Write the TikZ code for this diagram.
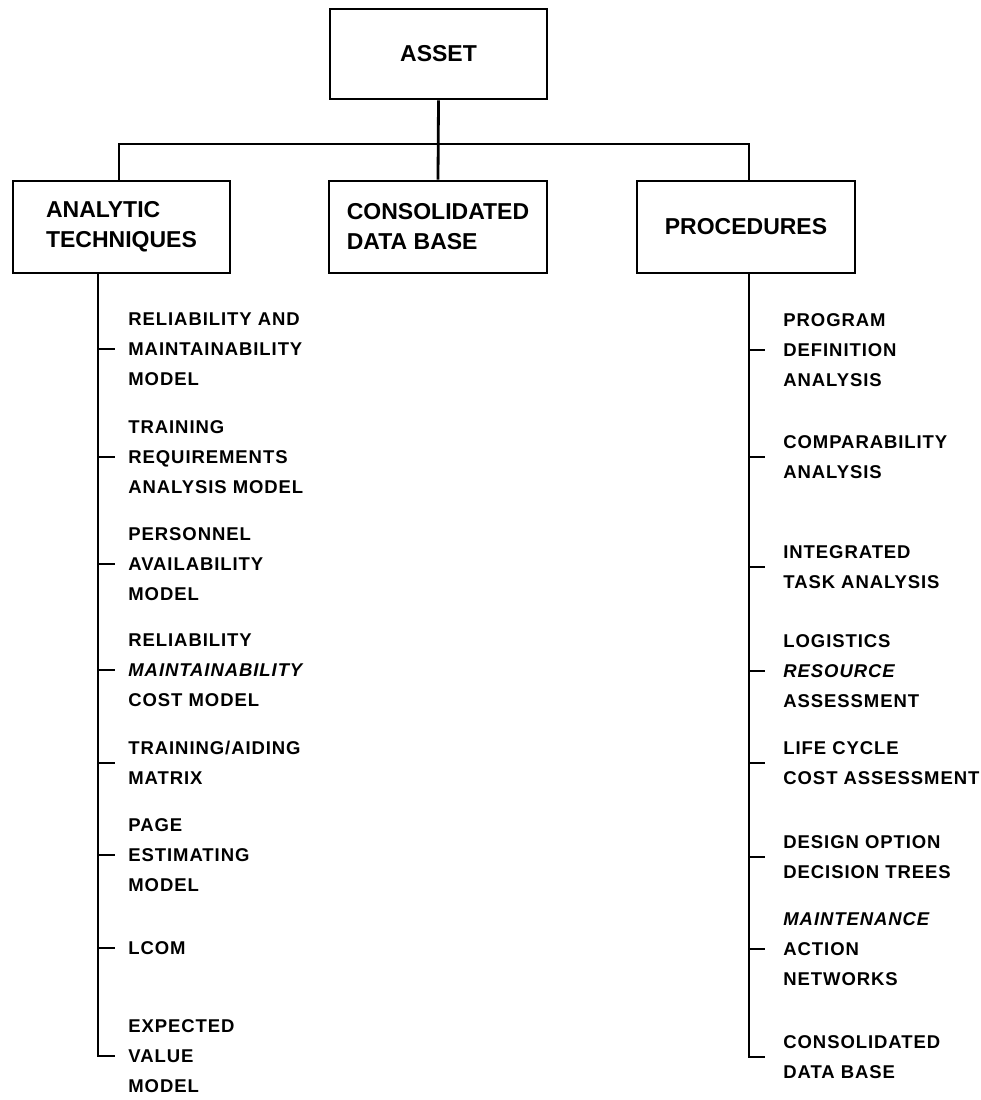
\documentclass[tikz,border=0pt]{standalone}
\usepackage{fontspec}
\setmainfont{Liberation Sans}
\newfontfamily\itemfont[LetterSpace=5.0]{Liberation Sans}
\begin{document}
\begin{tikzpicture}[x=1pt,y=-1pt,
  line width=2.8pt,
  box/.style={draw, line width=2.8pt, inner sep=0pt, align=left,
    font=\bfseries\fontsize{23}{30}\selectfont},
  item/.style={anchor=west, inner sep=0pt, align=left,
    font=\itemfont\bfseries\fontsize{18.5}{30}\selectfont},
  tick/.style={line width=2.8pt}]
\useasboundingbox (0,0) rectangle (981,1100);

% top box and the three main branches
\node[box, minimum width=217pt, minimum height=90pt] (asset) at (438.5,54) {ASSET};
\node[box, minimum width=217pt, minimum height=92pt] (analytic) at (121.5,227) {ANALYTIC\\TECHNIQUES};
\node[box, minimum width=218pt, minimum height=92pt] (database) at (438,227) {CONSOLIDATED\\DATA BASE};
\node[box, minimum width=218pt, minimum height=92pt] (procedures) at (746,227) {PROCEDURES};

\coordinate (bar) at (0,144);
\coordinate (ain) at ([xshift=-2.5pt]analytic.north);
\coordinate (pin) at ([xshift=3pt]procedures.north);
\draw (asset.south) -- (database.north);
\draw (ain) |- (bar -| pin) -- (pin);

% analytic techniques
\coordinate (ltop) at ([xshift=-23.5pt]analytic.south);
\node[item] (l1) at (127,349) {RELIABILITY AND\\MAINTAINABILITY\\MODEL};
\node[item] (l2) at (127,457) {TRAINING\\REQUIREMENTS\\ANALYSIS MODEL};
\node[item] (l3) at (127,564) {PERSONNEL\\AVAILABILITY\\MODEL};
\node[item] (l4) at (127,670) {RELIABILITY\\{\itshape MAINTAINABILITY}\\COST MODEL};
\node[item] (l5) at (127,763) {TRAINING/AIDING\\MATRIX};
\node[item] (l6) at (127,855) {PAGE\\ESTIMATING\\MODEL};
\node[item] (l7) at (127,948) {LCOM};
\node[item] (l8) at (127,1056) {EXPECTED\\VALUE\\MODEL};

\draw (ltop) |- ([xshift=-12pt]l8.west);
\foreach \n in {l1,l2,l3,l4,l5,l6,l7}
  \draw[tick] (\n.west -| ltop) -- ([xshift=-12pt]\n.west);

% procedures
\coordinate (rtop) at ([xshift=3pt]procedures.south);
\node[item] (r1) at (782,350) {PROGRAM\\DEFINITION\\ANALYSIS};
\node[item] (r2) at (782,457) {COMPARABILITY\\ANALYSIS};
\node[item] (r3) at (782,567) {INTEGRATED\\TASK ANALYSIS};
\node[item] (r4) at (782,671) {LOGISTICS\\{\itshape RESOURCE}\\ASSESSMENT};
\node[item] (r5) at (782,763) {LIFE CYCLE\\COST ASSESSMENT};
\node[item] (r6) at (782,857) {DESIGN OPTION\\DECISION TREES};
\node[item] (r7) at (782,949) {{\itshape MAINTENANCE}\\ACTION\\NETWORKS};
\node[item] (r8) at (782,1057) {CONSOLIDATED\\DATA BASE};

\draw (rtop) |- ([xshift=-17pt]r8.west);
\foreach \n in {r1,r2,r3,r4,r5,r6,r7}
  \draw[tick] (\n.west -| rtop) -- ([xshift=-17pt]\n.west);
\end{tikzpicture}
\end{document}
